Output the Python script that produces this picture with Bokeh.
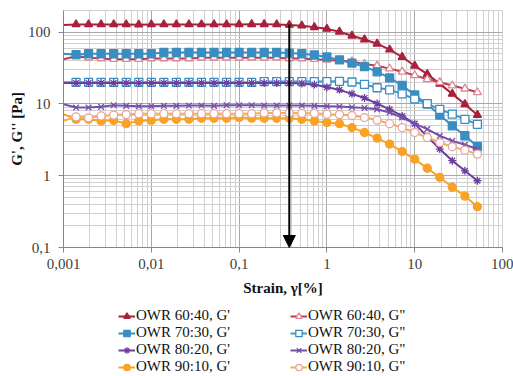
from bokeh.plotting import figure
from bokeh.layouts import column
from bokeh.models import (Range1d, FixedTicker, Legend, LegendItem, Arrow,
                          NormalHead, ColumnDataSource)
from bokeh.embed import file_html
from bokeh.resources import INLINE

# Strain sweep points [%]
strain = [0.001, 0.00139, 0.00193, 0.00268, 0.00373, 0.00518, 0.00720,
          0.01, 0.0139, 0.0193, 0.0268, 0.0373, 0.0518, 0.0720,
          0.1, 0.139, 0.193, 0.268, 0.373, 0.518, 0.720,
          1.0, 1.39, 1.93, 2.68, 3.73, 5.18, 7.20,
          10.0, 13.9, 19.3, 26.8, 37.3, 51.8]

# Storage modulus G' and loss modulus G'' [Pa]
g1_6040 = [126, 128, 128, 128, 128, 128, 127, 128, 128, 128, 128, 128, 128, 128,
           128, 129, 129, 128, 126, 123, 117, 111, 101, 89, 79, 69, 57, 45, 34,
           26, 19, 13.8, 9.9, 7.0]
g2_6040 = [42, 46, 44, 43, 42, 42, 42, 43, 43, 43, 43, 44, 44, 44, 44, 44, 44,
           44, 43, 43, 42, 41, 40, 39, 36, 34, 31, 28, 25, 22, 20, 18, 16.3, 14.5]
g1_7030 = [50, 48.5, 50, 50, 50, 50, 50, 50, 52, 52, 52, 52, 52, 52, 52, 52, 52,
           52, 51, 50, 48, 45, 41, 37, 33, 28, 23, 18.1, 13.3, 9.9, 7.0, 4.95,
           3.6, 2.55]
g2_7030 = [20, 20, 20, 20, 20, 20, 20, 20, 20, 20, 20, 20, 20, 20, 20, 20, 20.5,
           20.5, 20.5, 20.5, 20.5, 20.5, 20.6, 20.2, 18.7, 16.8, 15.7, 13.8, 11.7,
           10.1, 8.4, 7.2, 6.1, 5.2]
g1_8020 = [19.5, 19.5, 19.5, 19.5, 19.5, 19.5, 19.5, 19.5, 19.5, 19.5, 19.5,
           19.5, 19.5, 19.5, 19.5, 19.5, 19.5, 19.5, 19.5, 19.3, 18.6, 17.1, 15.7,
           13.8, 12.1, 10.1, 8.4, 6.8, 5.3, 3.5, 2.35, 1.62, 1.17, 0.85]
g2_8020 = [9.9, 8.9, 8.9, 9.1, 9.6, 9.4, 9.3, 9.3, 9.4, 9.4, 9.5, 9.5, 9.4, 9.6,
           9.6, 9.6, 9.5, 9.5, 9.5, 9.5, 9.4, 9.3, 9.2, 9.0, 8.8, 8.4, 7.6, 6.45,
           5.3, 4.45, 3.6, 3.06, 2.7, 2.35]
g1_9010 = [7.2, 6.1, 6.1, 5.8, 5.9, 5.3, 5.8, 5.9, 6.1, 6.1, 6.1, 6.3, 6.3, 6.3,
           6.45, 6.3, 6.3, 6.3, 6.3, 6.1, 5.8, 5.5, 5.3, 4.68, 4.0, 3.34, 2.76,
           2.17, 1.7, 1.27, 0.95, 0.69, 0.52, 0.37]
g2_9010 = [5.8, 6.6, 6.4, 6.8, 7.0, 7.1, 7.3, 7.3, 7.3, 7.3, 7.3, 7.3, 7.3, 7.3,
           7.3, 7.3, 7.5, 7.5, 7.5, 7.4, 7.4, 7.2, 7.1, 6.9, 6.45, 5.95, 5.3,
           4.68, 4.0, 3.4, 2.9, 2.53, 2.27, 2.0]

x_ticks = [0.001, 0.01, 0.1, 1, 10, 100]
x_tick_labels = ["0,001", "0,01", "0,1", "1", "10", "100"]
y_ticks = [0.1, 1, 10, 100]
y_tick_labels = ["0,1", "1", "10", "100"]

# Strain marked by the arrow and the G' level it starts from
arrow_strain = 0.373
arrow_top = 128

SERIF = "Liberation Serif"

series = [
    # label, values, line colour, marker, marker line, marker fill
    ("OWR 60:40, G'", g1_6040, "#A8213B", "triangle", "#A8213B", "#A8213B"),
    ('OWR 60:40, G"', g2_6040, "#BC3D53", "triangle", "#D98893", "white"),
    ("OWR 70:30, G'", g1_7030, "#3A8DC1", "square", "#3A8DC1", "#3A8DC1"),
    ('OWR 70:30, G"', g2_7030, "#4496C8", "square", "#3A8DC1", "white"),
    ("OWR 80:20, G'", g1_8020, "#6B3FA0", "asterisk", "#6B3FA0", "#6B3FA0"),
    ('OWR 80:20, G"', g2_8020, "#7550AA", "x", "#7550AA", "#7550AA"),
    ("OWR 90:10, G'", g1_9010, "#F8A227", "circle", "#F8A227", "#F8A227"),
    ('OWR 90:10, G"', g2_9010, "#F7AE48", "circle", "#E9A3A0", "white"),
]

p = figure(width=513, height=305, x_axis_type="log", y_axis_type="log",
           x_range=Range1d(0.001, 100), y_range=Range1d(0.1, 200),
           output_backend="svg", toolbar_location=None,
           min_border_left=63, min_border_right=11, min_border_top=10,
           min_border_bottom=58, background_fill_color="white",
           border_fill_color="white")

x_minor = [m * t for t in x_ticks[:-1] for m in range(2, 10)]
y_minor = [m * t for t in y_ticks for m in range(2, 10)]
p.xaxis.ticker = FixedTicker(ticks=x_ticks, minor_ticks=x_minor)
p.yaxis.ticker = FixedTicker(ticks=y_ticks, minor_ticks=y_minor)
p.xaxis.major_label_overrides = dict(zip(x_ticks, x_tick_labels))
p.yaxis.major_label_overrides = dict(zip(y_ticks, y_tick_labels))

for ax in (p.xaxis, p.yaxis):
    ax.axis_line_color = "#868686"
    ax.major_tick_line_color = "#868686"
    ax.major_tick_out = 5
    ax.major_tick_in = 0
    ax.minor_tick_out = 0
    ax.minor_tick_in = 0
    ax.major_label_text_font = SERIF
    ax.major_label_text_font_size = "15px"
    ax.major_label_text_color = "#404040"
    ax.axis_label_text_font = SERIF
    ax.axis_label_text_font_size = "15px"
    ax.axis_label_text_font_style = "bold"
    ax.axis_label_text_color = "#111111"

p.xaxis.axis_label = "Strain, γ[%]"
p.yaxis.axis_label = "G', G'' [Pa]"
p.xaxis.major_label_standoff = 6
p.yaxis.major_label_standoff = 8
p.xaxis.axis_label_standoff = 8
p.yaxis.axis_label_standoff = 0

for g in (p.xgrid, p.ygrid):
    g.grid_line_color = "#A8A8A8"
    g.minor_grid_line_color = "#D0D0D0"
p.outline_line_color = "#D0D0D0"

# Legend strip under the chart, drawn with the same line and marker styles
leg_fig = figure(width=513, height=71, x_range=Range1d(0, 1),
                 y_range=Range1d(0, 1), output_backend="svg",
                 toolbar_location=None, x_axis_location=None,
                 y_axis_location=None, min_border=0, outline_line_color=None,
                 background_fill_color="white", border_fill_color="white")
leg_fig.grid.visible = False
# one point outside the strip's ranges, so legend swatches have a row to style
swatch = ColumnDataSource(dict(x=[-1], y=[-1]))

g_prime, g_double = [], []
for i, (label, vals, lc, marker, mlc, mfc) in enumerate(series):
    src = ColumnDataSource(dict(x=strain, y=vals))
    msrc = ColumnDataSource(dict(x=strain[1:], y=vals[1:]))
    line_kw = dict(line_color=lc, line_width=2)
    mark_kw = dict(marker=marker, size=8, line_color=mlc, fill_color=mfc,
                   line_width=1.3)
    p.line("x", "y", source=src, **line_kw)
    p.scatter("x", "y", source=msrc, **mark_kw)

    k_line = leg_fig.line("x", "y", source=swatch, **line_kw)
    k_mark = leg_fig.scatter("x", "y", source=swatch, **mark_kw)
    item = LegendItem(label=label, renderers=[k_line, k_mark])
    (g_prime if i % 2 == 0 else g_double).append(item)

p.add_layout(Arrow(end=NormalHead(size=12, fill_color="black",
                                  line_color="black"),
                   x_start=arrow_strain, y_start=arrow_top,
                   x_end=arrow_strain, y_end=0.1,
                   line_color="black", line_width=2))

for col_items, loc in ((g_prime, (55, 1)), (g_double, (227, 1))):
    leg = Legend(items=col_items, location=loc, orientation="vertical",
                 padding=0, margin=0, spacing=0, glyph_width=17,
                 glyph_height=16, label_height=16, label_standoff=1,
                 border_line_alpha=0, background_fill_alpha=0,
                 label_text_font=SERIF, label_text_font_size="15px",
                 label_text_color="#111111")
    leg_fig.add_layout(leg, "center")

layout = column(p, leg_fig, spacing=0)
open("out.html", "w").write(file_html(layout, INLINE))
